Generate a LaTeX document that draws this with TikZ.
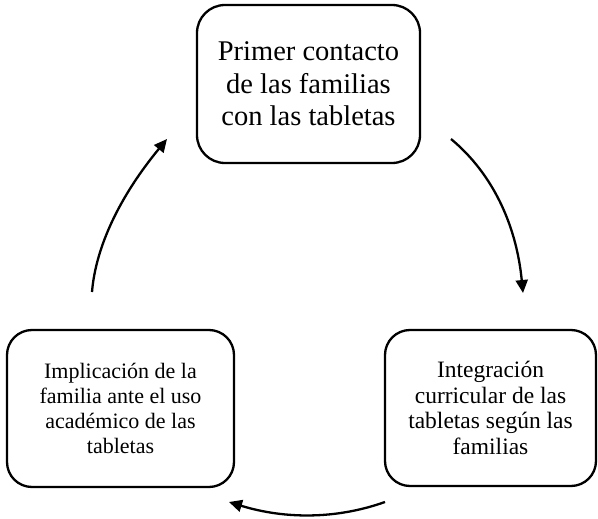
\documentclass[tikz,border=0pt]{standalone}
\usepackage{fontspec}
\setmainfont{Liberation Serif}
\usetikzlibrary{arrows.meta}
\begin{document}
\begin{tikzpicture}[x=1pt,y=-1pt,
  stagebox/.style={draw=black, line width=2.3pt, rounded corners=28pt, align=center, inner sep=0pt},
  cyclearrow/.style={line width=2.3pt, -{Triangle[length=13pt,width=12pt]}}]
\useasboundingbox (0,0) rectangle (598,519);
\node[stagebox, minimum width=223pt, minimum height=158pt,
  font=\fontsize{28.5}{32.5}\selectfont] (top) at (308.5,84)
  {Primer contacto\\de las familias\\con las tabletas};
\node[stagebox, minimum width=211pt, minimum height=156pt, rounded corners=25pt,
  font=\fontsize{23.5}{25.5}\selectfont] (right) at (490.5,408)
  {Integración\\curricular de las\\tabletas según las\\familias};
\node[stagebox, minimum width=227pt, minimum height=157pt, rounded corners=25pt,
  font=\fontsize{22}{25}\selectfont] (left) at (120.5,408.5)
  {Implicación de la\\familia ante el uso\\académico de las\\tabletas};
\coordinate (r0) at (451,139);
\coordinate (r1) at (523,293);
\coordinate (b0) at (385,502);
\coordinate (b1) at (229,502);
\coordinate (l0) at (92,292);
\coordinate (l1) at (167,139);
\draw[cyclearrow] (r0) .. controls (492.3,173.3) and (516.3,224.3) .. (r1);
\draw[cyclearrow] (b0) .. controls (336.3,519.3) and (285,519.3) .. (b1);
\draw[cyclearrow] (l0) .. controls (95.7,246.7) and (120,196) .. (l1);
\end{tikzpicture}
\end{document}
